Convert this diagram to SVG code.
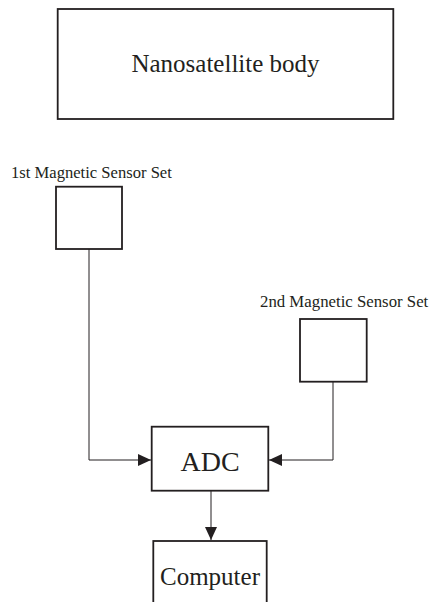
<svg xmlns="http://www.w3.org/2000/svg" width="430" height="602" viewBox="0 0 430 602">
<style>
.box{fill:#fff;stroke:#231f20;stroke-width:1.8}
.t{font-family:"Liberation Serif","Times New Roman",serif;fill:#231f20}
.c{fill:none;stroke:#231f20;stroke-width:1}
</style>
<defs>
<marker id="ah" markerUnits="userSpaceOnUse" markerWidth="14" markerHeight="12" refX="13" refY="6" orient="auto">
<path d="M0,0 L13,6 L0,12 Z" fill="#231f20"/>
</marker>
</defs>
<rect width="430" height="602" fill="#fff"/>
<g id="connectors">
<polyline class="c" points="89,249 89,460 151,460" marker-end="url(#ah)"/>
<polyline class="c" points="333,382 333,460 269,460" marker-end="url(#ah)"/>
<line class="c" x1="211" y1="491" x2="211" y2="540" marker-end="url(#ah)"/>
</g>
<g id="body">
<rect class="box" x="57.7" y="9" width="335.6" height="110"/>
<text class="t" x="225.5" y="72" font-size="25" text-anchor="middle">Nanosatellite body</text>
</g>
<g id="sensor1">
<text class="t" x="11" y="178" font-size="16.6">1st Magnetic Sensor Set</text>
<rect class="box" x="56" y="186.7" width="66" height="62.3"/>
</g>
<g id="sensor2">
<text class="t" x="260" y="306.7" font-size="16.8">2nd Magnetic Sensor Set</text>
<rect class="box" x="300" y="319" width="66.7" height="62.7"/>
</g>
<g id="adc">
<rect class="box" x="151.7" y="426.7" width="116.6" height="64"/>
<text class="t" x="210" y="471" font-size="28" text-anchor="middle">ADC</text>
</g>
<g id="computer">
<rect class="box" x="153.3" y="541" width="113.4" height="70"/>
<text class="t" x="210" y="585" font-size="25" text-anchor="middle">Computer</text>
</g>
</svg>
